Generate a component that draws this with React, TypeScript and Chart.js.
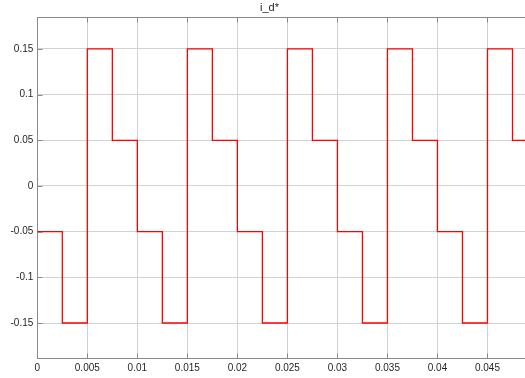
import React, { useEffect, useRef } from "react";
import { Chart, registerables } from "chart.js";

Chart.register(...registerables);

// Step start times (s) and the value held from each start time onward
const stepTimes = [
  0, 0.0025, 0.005, 0.0075,
  0.01, 0.0125, 0.015, 0.0175,
  0.02, 0.0225, 0.025, 0.0275,
  0.03, 0.0325, 0.035, 0.0375,
  0.04, 0.0425, 0.045, 0.0475,
  0.05,
];
const stepValues = [
  -0.05, -0.15, 0.15, 0.05,
  -0.05, -0.15, 0.15, 0.05,
  -0.05, -0.15, 0.15, 0.05,
  -0.05, -0.15, 0.15, 0.05,
  -0.05, -0.15, 0.15, 0.05,
  0.05,
];
const xTicks = [0, 0.005, 0.01, 0.015, 0.02, 0.025, 0.03, 0.035, 0.04, 0.045];
const yTicks = [-0.15, -0.1, -0.05, 0, 0.05, 0.1, 0.15];
const xRange = [0, 0.04875];
const yRange = [-0.1883, 0.185];
const titleText = "i_d*";

const FONT = "'Liberation Sans', Arial, Helvetica, sans-serif";
const AXIS_COLOR = "#8a8a8a";
const GRID_COLOR = "#d2d2d2";
const TEXT_COLOR = "#262626";

const framePlugin = {
  id: "matlabFrame",
  afterDraw(chart: any) {
    const { ctx, chartArea } = chart;
    const xs = chart.scales.x;
    const ys = chart.scales.y;
    ctx.save();
    ctx.strokeStyle = AXIS_COLOR;
    ctx.lineWidth = 1;
    const top = Math.round(chartArea.top) + 0.5;
    const bottom = Math.round(chartArea.bottom) + 0.5;
    const left = Math.round(chartArea.left) + 0.5;
    // top border
    ctx.beginPath();
    ctx.moveTo(chartArea.left, top);
    ctx.lineTo(chartArea.right, top);
    ctx.stroke();
    // inner ticks
    const tl = 5;
    ctx.beginPath();
    xs.ticks.forEach((t: any) => {
      const px = Math.round(xs.getPixelForValue(t.value)) + 0.5;
      ctx.moveTo(px, bottom);
      ctx.lineTo(px, bottom - tl);
      ctx.moveTo(px, top);
      ctx.lineTo(px, top + tl);
    });
    ys.ticks.forEach((t: any) => {
      const py = Math.round(ys.getPixelForValue(t.value)) + 0.5;
      ctx.moveTo(left, py);
      ctx.lineTo(left + tl, py);
    });
    ctx.stroke();
    // title
    ctx.fillStyle = TEXT_COLOR;
    ctx.font = `11px ${FONT}`;
    ctx.textAlign = "center";
    ctx.textBaseline = "alphabetic";
    ctx.fillText(titleText, 269.5, 11);
    ctx.restore();
  },
};

export default function App() {
  const ref = useRef<HTMLCanvasElement | null>(null);

  useEffect(() => {
    document.body.style.margin = "0";
    const canvas = ref.current;
    if (!canvas) return;
    const points = stepTimes.map((t, i) => ({ x: t, y: stepValues[i] }));
    const chart = new Chart(canvas, {
      type: "line",
      data: {
        datasets: [
          {
            label: titleText,
            data: points,
            borderColor: "#ff0000",
            backgroundColor: "#ff0000",
            borderWidth: 1.3,
            pointRadius: 0,
            stepped: "before",
            fill: false,
          },
        ],
      },
      options: {
        animation: false,
        responsive: false,
        devicePixelRatio: 1,
        layout: { padding: { top: 17, left: 0, right: 0, bottom: 0 } },
        plugins: {
          legend: { display: false },
          title: { display: false },
          tooltip: { enabled: false },
        },
        scales: {
          x: {
            type: "linear",
            min: xRange[0],
            max: xRange[1],
            afterBuildTicks: (s: any) => {
              s.ticks = xTicks.map((v) => ({ value: v }));
            },
            afterFit: (s: any) => {
              s.height = 20;
            },
            ticks: {
              color: TEXT_COLOR,
              font: { family: FONT, size: 10 },
              padding: 4,
              maxRotation: 0,
              autoSkip: false,
              callback: (v: any) => String(v),
            },
            grid: { color: GRID_COLOR, drawTicks: false, lineWidth: 1 },
            border: { display: true, color: AXIS_COLOR, width: 1 },
          },
          y: {
            type: "linear",
            min: yRange[0],
            max: yRange[1],
            afterBuildTicks: (s: any) => {
              s.ticks = yTicks.map((v) => ({ value: v }));
            },
            afterFit: (s: any) => {
              s.width = 37.3;
            },
            ticks: {
              color: TEXT_COLOR,
              font: { family: FONT, size: 10 },
              padding: 4,
              autoSkip: false,
              callback: (v: any) => String(v),
            },
            grid: { color: GRID_COLOR, drawTicks: false, lineWidth: 1 },
            border: { display: true, color: AXIS_COLOR, width: 1 },
          },
        },
      },
      plugins: [framePlugin],
    } as any);
    return () => chart.destroy();
  }, []);

  return <canvas ref={ref} width={525} height={378} style={{ display: "block" }} />;
}
